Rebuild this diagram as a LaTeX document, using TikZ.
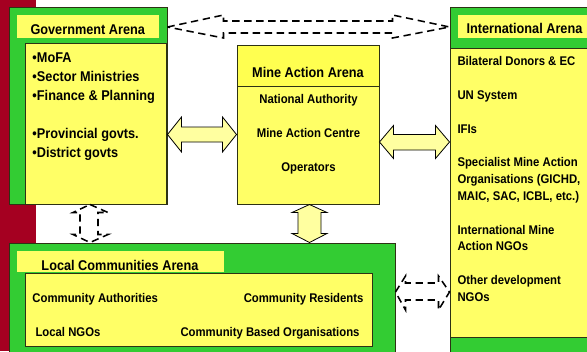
\documentclass[tikz,border=0pt]{standalone}
\usepackage{fontspec}
\setmainfont{Liberation Sans}[FakeStretch=0.9]
\usepackage{xcolor}
\usetikzlibrary{fit,calc}
\definecolor{slidered}{RGB}{165,0,33}
\definecolor{arenagreen}{RGB}{51,204,51}
\definecolor{arenayellow}{RGB}{255,255,102}
\definecolor{bandyellow}{RGB}{255,255,80}
\definecolor{arrowyellow}{RGB}{255,255,160}
\definecolor{boxline}{RGB}{45,50,20}
\tikzset{every picture/.style={line width=0.75pt}}
\tikzset{
  arena/.style={draw=boxline, fill=arenagreen, inner sep=0pt},
  panel/.style={draw=boxline, fill=arenayellow, inner sep=0pt},
  titleband/.style={fill=arenayellow, inner sep=0pt},
  heading/.style={font=\fontsize{10.6}{12}\selectfont\bfseries, inner sep=0pt},
  entry/.style={font=\fontsize{9.45}{12}\selectfont\bfseries, inner sep=0pt},
  fatarrow/.style={draw=black, fill=arrowyellow, line width=0.6pt, line join=miter},
  linkarrow/.style={draw=black, line width=1.15pt, dash pattern=on 5.5pt off 3.5pt},
}

\begin{document}
\begin{tikzpicture}[x=0.75pt,y=0.75pt,yscale=-1,xscale=1]
\useasboundingbox (0,0) rectangle (587,351);

%Shape: Red strip
\fill[slidered] (0,0) rectangle (36,351);

%Shape: Government Arena
\node[arena, fit={(9,7) (167,204)}] (gov) {};
\node[titleband, fit={(17,15) (159,38)}] (govband) {};
\node[panel, fit={(25,43) (166,204)}] (govpanel) {};

%Shape: Mine Action Arena
\node[panel, fit={(237,45) (379,204)}] (mine) {};
\node[panel, fill=bandyellow, fit={(237,45) (379,86)}] (mineband) {};

%Shape: International Arena
\node[arena, fit={(450,7) (600,362)}] (intl) {};
\node[titleband, fit={(458,15) (600,38)}] (intlband) {};
\node[panel, fit={(450,48) (600,337)}] (intlpanel) {};

%Shape: Local Communities Arena
\node[arena, fit={(9,243) (395,362)}] (local) {};
\node[panel, fit={(25,273) (372,346)}] (localpanel) {};
\node[titleband, fit={(17,251) (224,272)}] (localband) {};

%Connector coordinates
\coordinate (gi) at (gov.east |- 0,27);
\coordinate (ig) at (intl.west |- 0,27);
\coordinate (gm) at (gov.east |- 0,134.5);
\coordinate (mg) at (mine.west |- 0,134.5);
\coordinate (mi) at (mine.east |- 0,142);
\coordinate (im) at (intl.west |- 0,142);
\coordinate (ml) at (mine.south -| 309.5,0);
\coordinate (lm) at (local.north -| 309.5,0);
\coordinate (gl) at (gov.south -| 90,0);
\coordinate (lg) at (local.north -| 90,0);
\coordinate (li) at (local.east |- 0,292);
\coordinate (il) at (intl.west |- 0,292);

%Dashed arrows
\draw[linkarrow] (gi) -- ++(56,-12) -- ++(0,6) -- ($(ig)+(-57,-6)$) -- ++(0,-6) -- (ig) -- ++(-57,11) -- ++(0,-5) -- ($(gi)+(56,6)$) -- ++(0,5) -- cycle;
\draw[linkarrow] (gl) -- ++(18,8) -- ++(-10,0) -- ($(lg)+(8,-8)$) -- ++(10,0) -- (lg) -- ++(-17,-8) -- ++(7,0) -- ($(gl)+(-10,8)$) -- ++(-7,0) -- cycle;
\draw[linkarrow] (li) -- ++(10,-16) -- ++(0,7) -- ($(il)+(-11,-9)$) -- ++(0,-7) -- (il) -- ++(-11,18) -- ++(0,-10) -- ($(li)+(10,8)$) -- ++(0,10) -- cycle;

%Block arrows
\draw[fatarrow] (gm) -- ++(14,-17.5) -- ++(0,10) -- ($(mg)+(-14,-7.5)$) -- ++(0,-10) -- (mg) -- ++(-14,17.5) -- ++(0,-10) -- ($(gm)+(14,7.5)$) -- ++(0,10) -- cycle;
\draw[fatarrow] (mi) -- ++(14,-16.5) -- ++(0,9) -- ($(im)+(-14,-7.5)$) -- ++(0,-9) -- (im) -- ++(-14,16.5) -- ++(0,-8.5) -- ($(mi)+(14,8)$) -- ++(0,8.5) -- cycle;
\draw[fatarrow] (ml) -- ++(17.5,8) -- ++(-6,0) -- ($(lm)+(11.5,-9)$) -- ++(6,0) -- (lm) -- ++(-17.5,-9) -- ++(6,0) -- ($(ml)+(-11.5,8)$) -- ++(-6,0) -- cycle;

% Text Node
\node[heading, anchor=base west] (govtitle) at (30,34) {Government Arena};
\node[heading, anchor=base west] (mofa) at (32,62) {•MoFA};
\node[heading, anchor=base west] (sector) at (32,81) {•Sector Ministries};
\node[heading, anchor=base west] (finance) at (32,100) {•Finance \& Planning};
\node[heading, anchor=base west] (province) at (32,138) {•Provincial govts.};
\node[heading, anchor=base west] (district) at (32,157) {•District govts};
% Text Node
\node[heading, anchor=base] (minetitle) at (308,77) {Mine Action Arena};
\node[entry, anchor=base] (authority) at (308.5,103) {National Authority};
\node[entry, anchor=base] (centre) at (308.5,137) {Mine Action Centre};
\node[entry, anchor=base] (operators) at (308.5,171) {Operators};
% Text Node
\node[heading, anchor=base west] (intltitle) at (466,33.5) {International Arena};
\node[entry, anchor=base west] (donors) at (457,65) {Bilateral Donors \& EC};
\node[entry, anchor=base west] (unsys) at (457,99) {UN System};
\node[entry, anchor=base west] (ifis) at (457,133) {IFIs};
\node[entry, anchor=base west] (spec1) at (457,166.5) {Specialist Mine Action};
\node[entry, anchor=base west] (spec2) at (457,183.5) {Organisations (GICHD,};
\node[entry, anchor=base west] (spec3) at (457,200.5) {MAIC, SAC, ICBL, etc.)};
\node[entry, anchor=base west] (ingo1) at (457,234) {International Mine};
\node[entry, anchor=base west] (ingo2) at (457,250.5) {Action NGOs};
\node[entry, anchor=base west] (other1) at (457,284.5) {Other development};
\node[entry, anchor=base west] (other2) at (457,301) {NGOs};
% Text Node
\node[heading, anchor=base west] (localtitle) at (41,270) {Local Communities Arena};
\node[entry, anchor=base west] (authorities) at (32,302.5) {Community Authorities};
\node[entry, anchor=base west] (localngos) at (35,336) {Local NGOs};
\node[entry, anchor=base east] (residents) at (364,302.5) {Community Residents};
\node[entry, anchor=base east] (cbos) at (360,336) {Community Based Organisations};

\end{tikzpicture}
\end{document}
